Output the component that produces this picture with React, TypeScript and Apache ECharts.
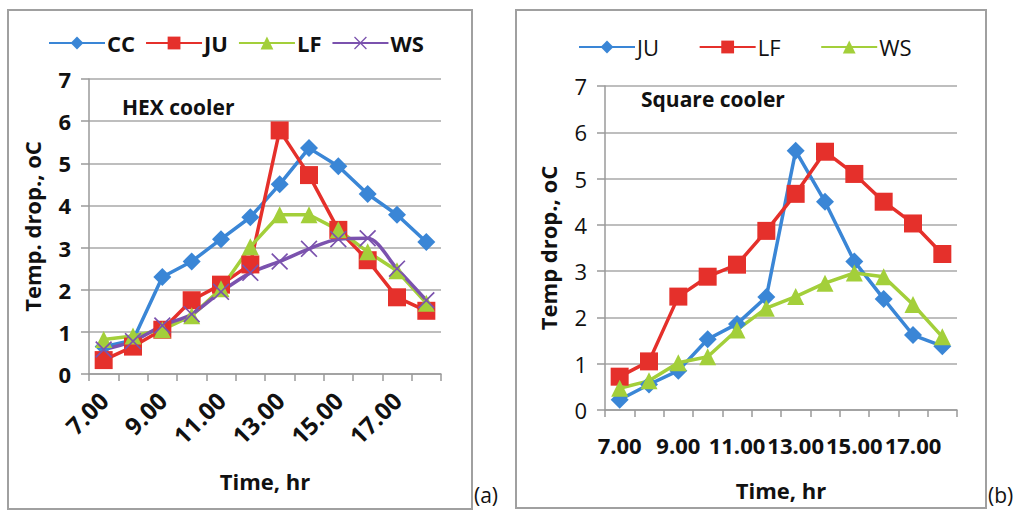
import React, { useEffect, useRef } from "react";
import * as echarts from "echarts";

const categories = ["7.00", "8.00", "9.00", "10.00", "11.00", "12.00", "13.00", "14.00", "15.00", "16.00", "17.00", "18.00"];

// Panel (a) HEX cooler
const hexCC = [0.65, 0.8, 2.3, 2.67, 3.2, 3.72, 4.5, 5.36, 4.93, 4.27, 3.78, 3.13];
const hexJU = [0.33, 0.65, 1.05, 1.75, 2.12, 2.6, 5.78, 4.72, 3.42, 2.7, 1.82, 1.5];
const hexLF = [0.82, 0.9, 1.05, 1.38, 2.02, 3.02, 3.78, 3.78, 3.42, 2.9, 2.45, 1.68];
const hexWS = [0.58, 0.78, 1.15, 1.42, 1.95, 2.4, 2.67, 2.97, 3.2, 3.22, 2.5, 1.75];

// Panel (b) Square cooler
const sqJU = [0.22, 0.55, 0.85, 1.53, 1.86, 2.44, 5.6, 4.5, 3.21, 2.4, 1.62, 1.38];
const sqLF = [0.72, 1.05, 2.45, 2.88, 3.14, 3.87, 4.67, 5.58, 5.1, 4.5, 4.03, 3.37];
const sqWS = [0.47, 0.63, 1.02, 1.15, 1.73, 2.2, 2.45, 2.74, 2.96, 2.88, 2.28, 1.58];

const yTicks = [0, 1, 2, 3, 4, 5, 6, 7];

const BLUE = "#3a86d6";
const RED = "#e5302b";
const GREEN = "#a3cf3a";
const PURPLE = "#7b52ae";
const FONT = "Open Sans";
const XSYM = "path://M0,1.4 L1.4,0 L10,8.6 L18.6,0 L20,1.4 L11.4,10 L20,18.6 L18.6,20 L10,11.4 L1.4,20 L0,18.6 L8.6,10 Z";

export default function App() {
  const ref = useRef<HTMLDivElement>(null);
  useEffect(() => {
    if (!ref.current) return;
    const chart = echarts.init(ref.current, null, { renderer: "svg" });

    const mkX = (gi: number, rotate: number, nameGap: number, margin: number, labelSize: number) => ({
      type: "category",
      gridIndex: gi,
      data: categories,
      boundaryGap: true,
      name: "Time, hr",
      nameLocation: "middle",
      nameGap,
      nameTextStyle: { fontFamily: FONT, fontWeight: "bold", fontSize: 22, color: "#111" },
      axisLine: { show: true, lineStyle: { color: "#9a9a9a", width: 1.5 } },
      axisTick: { show: true, interval: 0, length: 7, lineStyle: { color: "#9a9a9a", width: 1.5 } },
      axisLabel: {
        interval: 1,
        rotate,
        margin,
        fontFamily: FONT,
        fontWeight: "bold",
        fontSize: labelSize,
        color: "#111",
      },
      splitLine: { show: false },
    });

    const mkY = (gi: number, bold: boolean, name: string, nameGap: number) => ({
      type: "value",
      gridIndex: gi,
      min: yTicks[0],
      max: yTicks[yTicks.length - 1],
      interval: 1,
      name,
      nameLocation: "middle",
      nameGap,
      nameTextStyle: { fontFamily: FONT, fontWeight: "bold", fontSize: 22, color: "#111" },
      axisLine: { show: true, lineStyle: { color: "#9a9a9a", width: 1.5 } },
      axisTick: { show: true, length: 8, lineStyle: { color: "#9a9a9a", width: 1.5 } },
      axisLabel: {
        margin: 18,
        fontFamily: FONT,
        fontWeight: bold ? "bold" : "normal",
        fontSize: 22,
        color: "#111",
      },
      splitLine: { show: true, lineStyle: { color: "#a8a8a8", width: 1.5 } },
    });

    const mkSeries = (
      name: string,
      data: number[],
      gi: number,
      color: string,
      symbol: string,
      size: number,
      smooth: boolean | number = false
    ) => ({
      name,
      type: "line",
      xAxisIndex: gi,
      yAxisIndex: gi,
      data,
      smooth,
      symbol,
      symbolSize: size,
      showSymbol: true,
      lineStyle: { color, width: 3.5 },
      itemStyle: { color },
      z: 2,
    });

    chart.setOption({
      animation: false,
      backgroundColor: "#ffffff",
      grid: [
        { left: 89, right: 1018 - 441, top: 79, bottom: 512 - 374 },
        { left: 605, right: 1018 - 957, top: 86, bottom: 512 - 410 },
      ],
      legend: [
        {
          left: 43,
          top: 27,
          itemWidth: 56,
          itemHeight: 16,
          itemGap: 10,
          data: ["CC", "JU", "LF", "WS"],
          textStyle: { fontFamily: FONT, fontWeight: "bold", fontSize: 22, color: "#111", padding: [0, 0, 0, -3] },
        },
        {
          left: 573,
          top: 31,
          itemWidth: 56,
          itemHeight: 16,
          itemGap: 34,
          data: ["JU ", "LF ", "WS "],
          textStyle: { fontFamily: FONT, fontWeight: "normal", fontSize: 22, color: "#111", padding: [0, 0, 0, -3] },
        },
      ],
      xAxis: [mkX(0, 45, 96, 22, 24), mkX(1, 0, 69, 24, 22)],
      yAxis: [mkY(0, true, "Temp. drop., oC", 46), mkY(1, false, "Temp drop., oC", 46)],
      series: [
        mkSeries("CC", hexCC, 0, BLUE, "diamond", 18),
        mkSeries("JU", hexJU, 0, RED, "rect", 18),
        mkSeries("LF", hexLF, 0, GREEN, "triangle", 17),
        mkSeries("WS", hexWS, 0, PURPLE, XSYM, 17, 0.3),
        mkSeries("JU ", sqJU, 1, BLUE, "diamond", 18),
        mkSeries("LF ", sqLF, 1, RED, "rect", 18),
        mkSeries("WS ", sqWS, 1, GREEN, "triangle", 17),
      ],
      graphic: [
        { type: "rect", shape: { x: 8, y: 10, width: 464, height: 499 }, style: { fill: "none", stroke: "#a0a0a0", lineWidth: 2 }, z: 0 },
        { type: "rect", shape: { x: 516, y: 10, width: 470, height: 498 }, style: { fill: "none", stroke: "#a0a0a0", lineWidth: 2 }, z: 0 },
        { type: "text", left: 122, top: 96, style: { text: "HEX cooler", fontFamily: FONT, fontWeight: "bold", fontSize: 21, fill: "#111" } },
        { type: "text", left: 641, top: 88, style: { text: "Square cooler", fontFamily: FONT, fontWeight: "bold", fontSize: 21, fill: "#111" } },
        { type: "text", left: 474, top: 484, style: { text: "(a)", fontFamily: FONT, fontSize: 21, fill: "#111" } },
        { type: "text", left: 988, top: 484, style: { text: "(b)", fontFamily: FONT, fontSize: 21, fill: "#111" } },
      ],
    });
    return () => chart.dispose();
  }, []);
  return <div ref={ref} style={{ position: "fixed", left: 0, top: 0, width: 1018, height: 512 }} />;
}
